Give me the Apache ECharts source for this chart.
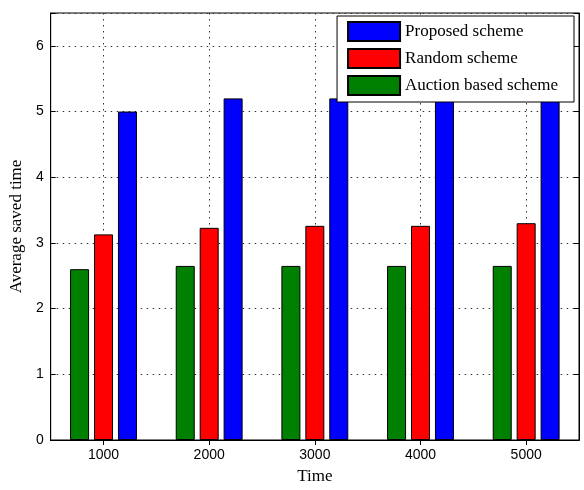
<!DOCTYPE html>
<html><head><meta charset="utf-8">
<script src="https://cdn.jsdelivr.net/npm/echarts@6/dist/echarts.min.js"></script>
<style>html,body{margin:0;padding:0;background:#fff}#c{width:584px;height:490px}</style>
</head><body><div id="c"></div>
<script>
const categories = ['1000', '2000', '3000', '4000', '5000'];
const auction = [2.6, 2.65, 2.65, 2.65, 2.65];
const random = [3.13, 3.23, 3.26, 3.26, 3.3];
const proposed = [5.0, 5.2, 5.2, 5.2, 5.2];
const yTicks = [0, 1, 2, 3, 4, 5, 6];

const chart = echarts.init(document.getElementById('c'));
const serif = '"Liberation Serif", "Times New Roman", serif';
const sans = '"Liberation Sans", Arial, sans-serif';
const gridLine = {show: true, lineStyle: {color: '#333', width: 1, type: [1.5, 4.5]}};
const tickIn = {show: true, inside: true, length: 5, lineStyle: {color: '#000'}};
function bar(name, data, color) {
  return {name, type: 'bar', data, barWidth: 19, barGap: '26%',
    itemStyle: {color, borderColor: '#000', borderWidth: 1}};
}
chart.setOption({
  animation: false,
  backgroundColor: '#fff',
  grid: {left: 50, right: 5, top: 13, bottom: 45, show: true, borderColor: '#000', borderWidth: 1},
  legend: {
    data: ['Proposed scheme', 'Random scheme', 'Auction based scheme'],
    orient: 'vertical', right: 10, top: 16, itemWidth: 52, itemHeight: 19, itemGap: 6,
    padding: [5, 16, 6, 10], borderColor: '#000', borderWidth: 1, backgroundColor: '#fff',
    icon: 'rect', selectedMode: false,
    textStyle: {fontFamily: serif, fontSize: 17, color: '#000'}
  },
  xAxis: [{
    type: 'category', data: categories, position: 'bottom',
    name: 'Time', nameLocation: 'middle', nameGap: 28,
    nameTextStyle: {fontFamily: serif, fontSize: 17, color: '#000'},
    axisLine: {show: true, lineStyle: {color: '#000'}},
    axisTick: Object.assign({alignWithLabel: true}, tickIn),
    axisLabel: {fontFamily: sans, fontSize: 14, color: '#000', margin: 8},
    splitLine: Object.assign({alignWithLabel: true}, gridLine)
  }, {
    type: 'category', data: categories, position: 'top',
    axisLine: {show: true, lineStyle: {color: '#000'}},
    axisTick: Object.assign({alignWithLabel: true}, tickIn),
    axisLabel: {show: false}, splitLine: {show: false}
  }],
  yAxis: [{
    type: 'value', min: 0, max: 6.5, interval: 1,
    name: 'Average saved time', nameLocation: 'middle', nameGap: 24,
    nameTextStyle: {fontFamily: serif, fontSize: 17, color: '#000'},
    axisLine: {show: true, lineStyle: {color: '#000'}},
    axisTick: tickIn,
    axisLabel: {fontFamily: sans, fontSize: 14, color: '#000', margin: 7,
      formatter: v => yTicks.includes(v) ? String(v) : ''},
    splitLine: gridLine
  }, {
    type: 'value', min: 0, max: 6.5, interval: 1, position: 'right',
    axisLine: {show: true, lineStyle: {color: '#000'}},
    axisTick: tickIn, axisLabel: {show: false}, splitLine: {show: false}
  }],
  series: [
    bar('Auction based scheme', auction, '#008000'),
    bar('Random scheme', random, '#ff0000'),
    bar('Proposed scheme', proposed, '#0000ff')
  ]
});
</script></body></html>
